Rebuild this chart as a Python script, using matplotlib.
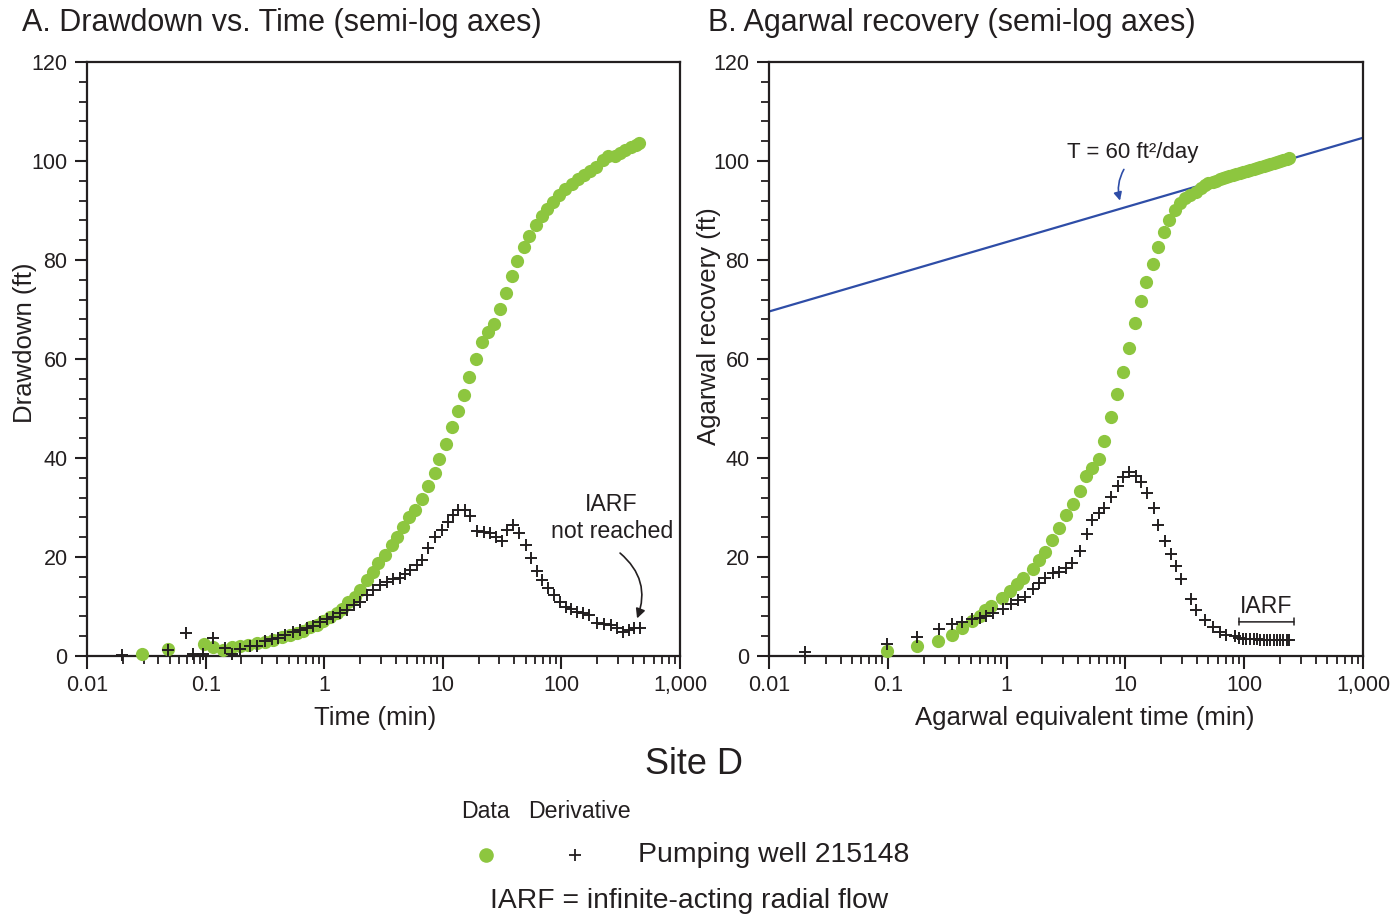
import matplotlib
matplotlib.use("Agg")
import matplotlib.pyplot as plt
from matplotlib.lines import Line2D
from matplotlib.ticker import FixedLocator, MultipleLocator, LogLocator, NullFormatter

plt.rcParams['font.family'] = ['Liberation Sans', 'DejaVu Sans']

# ---- data ----
# A. drawdown vs time
time_a = [0.029, 0.048, 0.096, 0.116, 0.141, 0.166, 0.195, 0.229, 0.27, 0.317,
          0.372, 0.438, 0.515, 0.587, 0.667, 0.76, 0.865, 0.98, 1.12, 1.27,
          1.41, 1.6, 1.82, 2.0, 2.28, 2.59, 2.86, 3.26, 3.7, 4.13,
          4.64, 5.22, 5.83, 6.64, 7.55, 8.6, 9.35, 10.6, 11.9, 13.4,
          15.2, 16.7, 19.1, 21.3, 24.2, 27.0, 30.4, 33.9, 38.1, 42.5,
          48.4, 53.7, 60.7, 68.2, 75.2, 85.5, 96.2, 107, 122, 139,
          155, 174, 196, 223, 249, 283, 312, 344, 384, 425, 454]
drawdown = [0.5, 1.4, 2.4, 1.9, 1.3, 1.9, 2.0, 2.2, 2.7, 2.9,
            3.2, 3.8, 4.2, 4.6, 5.1, 5.8, 6.3, 7.1, 7.9, 8.7,
            9.6, 11.0, 12.0, 13.3, 15.4, 17.0, 18.7, 20.4, 22.4, 24.1,
            26.1, 28.1, 29.5, 31.7, 34.3, 36.9, 39.9, 42.8, 46.3, 49.5,
            52.7, 56.4, 60.1, 63.4, 65.4, 67.0, 70.2, 73.4, 76.8, 79.8,
            82.6, 84.9, 87.1, 88.9, 90.3, 91.8, 93.1, 94.3, 95.4, 96.3,
            97.2, 98.0, 98.8, 100.2, 101.0, 101.0, 101.7, 102.2, 102.8, 103.2, 103.6]

time_a_der = [0.0196, 0.0484, 0.0684, 0.0786, 0.095, 0.116, 0.146, 0.166, 0.195, 0.237,
              0.27, 0.317, 0.36, 0.41, 0.47, 0.55, 0.62, 0.71, 0.8, 0.92,
              1.05, 1.19, 1.36, 1.55, 1.77, 2.0, 2.28, 2.59, 2.95, 3.36,
              3.77, 4.36, 4.8, 5.28, 6.0, 6.64, 7.55, 8.6, 9.8, 11.1,
              12.2, 13.5, 15.5, 17.0, 19.4, 22.1, 24.8, 27.8, 31.7, 35.0,
              39.3, 43.8, 50.0, 55.8, 62.8, 69.2, 76.3, 86.8, 97.5, 109,
              120, 136, 153, 170, 200, 228, 260, 296, 333, 372, 410, 460]
deriv_a = [0.3, 1.2, 4.6, 0.5, 0.5, 3.6, 1.7, 0.5, 1.35, 2.0,
           2.0, 3.0, 3.4, 3.6, 4.2, 4.8, 5.3, 5.6, 6.1, 6.9,
           7.4, 7.9, 8.7, 9.4, 10.3, 11.0, 12.3, 13.3, 14.3, 15.0,
           15.5, 15.7, 16.6, 17.4, 18.4, 19.4, 21.8, 24.1, 25.5, 27.1,
           28.4, 29.6, 29.6, 28.3, 25.3, 25.1, 24.8, 24.1, 23.3, 25.5,
           26.5, 24.9, 22.4, 19.9, 17.2, 15.4, 13.7, 12.3, 11.0, 10.0,
           9.6, 8.9, 8.6, 8.3, 6.7, 6.5, 6.3, 5.6, 4.9, 5.3, 5.6, 5.6]

# B. Agarwal recovery
time_b = [0.098, 0.175, 0.266, 0.345, 0.42, 0.508, 0.6, 0.66, 0.74, 0.91,
          1.07, 1.23, 1.38, 1.66, 1.88, 2.1, 2.43, 2.74, 3.16, 3.61,
          4.11, 4.65, 5.23, 5.95, 6.6, 7.5, 8.5, 9.5, 10.8, 12.1,
          13.5, 15.0, 17.0, 18.7, 21.2, 23.4, 26.1, 28.7, 31.5, 34.8,
          39.2, 43, 46.6, 50, 54.8, 58, 62.3, 66, 70, 75,
          80, 86, 92, 98, 105, 112, 120, 128, 137, 146,
          156, 166, 177, 189, 201, 214, 228, 240]
recovery = [1.1, 2.1, 3.1, 4.2, 5.6, 7.0, 8.0, 9.2, 10.1, 11.7,
            13.1, 14.5, 15.8, 17.6, 19.5, 21.1, 23.4, 25.8, 28.5, 30.8,
            33.4, 36.4, 37.9, 39.9, 43.4, 48.2, 53.0, 57.4, 62.2, 67.2,
            71.8, 75.5, 79.1, 82.7, 85.7, 88.1, 90.1, 91.6, 92.5, 93.1,
            93.8, 94.6, 95.2, 95.5, 95.8, 96.0, 96.3, 96.5, 96.7, 96.9,
            97.1, 97.3, 97.5, 97.7, 97.9, 98.1, 98.4, 98.6, 98.8, 99.0,
            99.2, 99.4, 99.6, 99.8, 100.0, 100.2, 100.4, 100.7]

time_b_der = [0.0201, 0.098, 0.176, 0.268, 0.347, 0.42, 0.508, 0.6, 0.67, 0.765,
              0.93, 1.09, 1.25, 1.42, 1.68, 1.86, 2.12, 2.46, 2.76, 3.18,
              3.57, 4.12, 4.74, 5.23, 5.95, 6.65, 7.57, 8.6, 9.5, 10.8,
              12.3, 13.5, 15.1, 17.4, 18.9, 21.6, 24.0, 26.4, 29.5, 35.8,
              39.5, 46.3, 54.4, 62, 70.6, 83, 90, 97, 104, 112,
              120, 128, 137, 146, 156, 166, 177, 189, 201, 214, 228, 240]
deriv_b = [0.9, 2.4, 3.9, 5.5, 6.4, 6.9, 7.4, 7.6, 8.1, 8.7,
           9.6, 10.5, 11.3, 12.0, 13.5, 14.7, 15.7, 16.8, 17.0, 17.7,
           18.8, 21.3, 24.6, 27.5, 28.8, 30.0, 32.1, 34.3, 36.2, 37.2,
           36.4, 35.2, 33.0, 30.0, 26.5, 23.3, 20.7, 18.1, 15.5, 11.6,
           9.3, 7.2, 5.9, 4.8, 4.3, 4.0, 3.7, 3.5, 3.5, 3.4,
           3.4, 3.4, 3.3, 3.3, 3.3, 3.3, 3.3, 3.3, 3.3, 3.3, 3.3, 3.3]

# straight-line fit (T = 60 ft2/day)
fit_time = [0.01, 1000]
fit_recovery = [69.6, 104.7]

xticks = [0.01, 0.1, 1, 10, 100, 1000]
xticklabels = ['0.01', '0.1', '1', '10', '100', '1,000']

green = '#8DC63F'
dark = '#231F20'
blue = '#2E4DA7'

fig = plt.figure(figsize=(13.99, 9.16), dpi=100)
axA = fig.add_axes([0.0622, 0.2838, 0.4239, 0.6485])
axB = fig.add_axes([0.5497, 0.2838, 0.4246, 0.6485])


def style_axis(ax, ylabel, xlabel):
    ax.set_xscale('log')
    ax.set_xlim(0.01, 1000)
    ax.set_ylim(0, 120)
    ax.xaxis.set_major_locator(FixedLocator(xticks))
    ax.set_xticklabels(xticklabels)
    ax.xaxis.set_minor_locator(LogLocator(base=10, subs=range(2, 10), numticks=20))
    ax.xaxis.set_minor_formatter(NullFormatter())
    ax.yaxis.set_major_locator(MultipleLocator(20))
    ax.yaxis.set_minor_locator(MultipleLocator(4))
    ax.tick_params(which='major', direction='out', length=9, width=1.5,
                   labelsize=15.5, colors=dark, pad=5)
    ax.tick_params(which='minor', direction='out', length=5.5, width=1.3, colors=dark)
    for s in ax.spines.values():
        s.set_linewidth(1.6)
        s.set_color(dark)
    ax.set_xlabel(xlabel, fontsize=18.5, color=dark)
    ax.set_ylabel(ylabel, fontsize=18.5, color=dark)


# ---- panel A ----
axA.plot(time_a, drawdown, 'o', color=green, ms=9.5, mec='none', clip_on=False, zorder=3)
axA.plot(time_a_der, deriv_a, '+', color=dark, ms=9, mew=1.4, clip_on=False, zorder=4)
style_axis(axA, 'Drawdown (ft)', 'Time (min)')
axA.xaxis.set_label_coords(0.486, -0.084)
axA.yaxis.set_label_coords(-0.084, 0.527)
axA.text(265, 27.9, 'IARF\nnot reached', ha='center', va='center', fontsize=16.7,
         linespacing=1.2, color=dark)
axA.annotate('', xy=(434, 7.6), xytext=(312, 20.8),
             arrowprops=dict(arrowstyle='-|>', color=dark, lw=1.2,
                             connectionstyle='arc3,rad=-0.35',
                             mutation_scale=14, shrinkA=0, shrinkB=0))

# ---- panel B ----
axB.plot(fit_time, fit_recovery, '-', color=blue, lw=1.6, zorder=2)
axB.plot(time_b, recovery, 'o', color=green, ms=9.5, mec='none', clip_on=False, zorder=3)
axB.plot(time_b_der, deriv_b, '+', color=dark, ms=9, mew=1.4, clip_on=False, zorder=4)
style_axis(axB, 'Agarwal recovery (ft)', 'Agarwal equivalent time (min)')
axB.xaxis.set_label_coords(0.532, -0.084)
axB.yaxis.set_label_coords(-0.081, 0.555)
axB.text(3.22, 101.8, 'T = 60 ft²/day', ha='left', va='center', fontsize=16, color=dark)
axB.annotate('', xy=(9.0, 92.0), xytext=(9.7, 98.3),
             arrowprops=dict(arrowstyle='-|>', color=blue, lw=1.2,
                             connectionstyle='arc3,rad=0.2',
                             mutation_scale=12, shrinkA=0, shrinkB=0))
axB.annotate('', xy=(90, 6.9), xytext=(262, 6.9),
             arrowprops=dict(arrowstyle='|-|, widthA=0.25, widthB=0.25',
                             color=dark, lw=1.1, shrinkA=0, shrinkB=0))
axB.text(153, 10.1, 'IARF', ha='center', va='center', fontsize=16.6, color=dark)

# ---- titles ----
fig.text(22 / 1399, 1 - 23 / 916, 'A. Drawdown vs. Time (semi-log axes)',
         ha='left', va='center', fontsize=22, color=dark)
fig.text(708 / 1399, 1 - 23 / 916, 'B. Agarwal recovery (semi-log axes)',
         ha='left', va='center', fontsize=22, color=dark)

# ---- legend / caption ----
fig.text(694 / 1399, 1 - 764 / 916, 'Site D', ha='center', va='center', fontsize=26, color=dark)
fig.text(485 / 1399, 1 - 811 / 916, 'Data', ha='center', va='center', fontsize=16.7, color=dark)
fig.text(579 / 1399, 1 - 811 / 916, 'Derivative', ha='center', va='center', fontsize=16.7, color=dark)
fig.add_artist(Line2D([486 / 1399], [1 - 855 / 916], transform=fig.transFigure,
                      marker='o', color=green, ms=10.5, mec='none', ls='none'))
fig.add_artist(Line2D([575 / 1399], [1 - 855 / 916], transform=fig.transFigure,
                      marker='+', color=dark, ms=8, mew=1.3, ls='none'))
fig.text(638 / 1399, 1 - 855 / 916, 'Pumping well 215148', ha='left', va='center',
         fontsize=20.4, color=dark)
fig.text(689 / 1399, 1 - 901 / 916, 'IARF = infinite-acting radial flow', ha='center',
         va='center', fontsize=20.3, color=dark)

fig.savefig('out.png', dpi=100)
